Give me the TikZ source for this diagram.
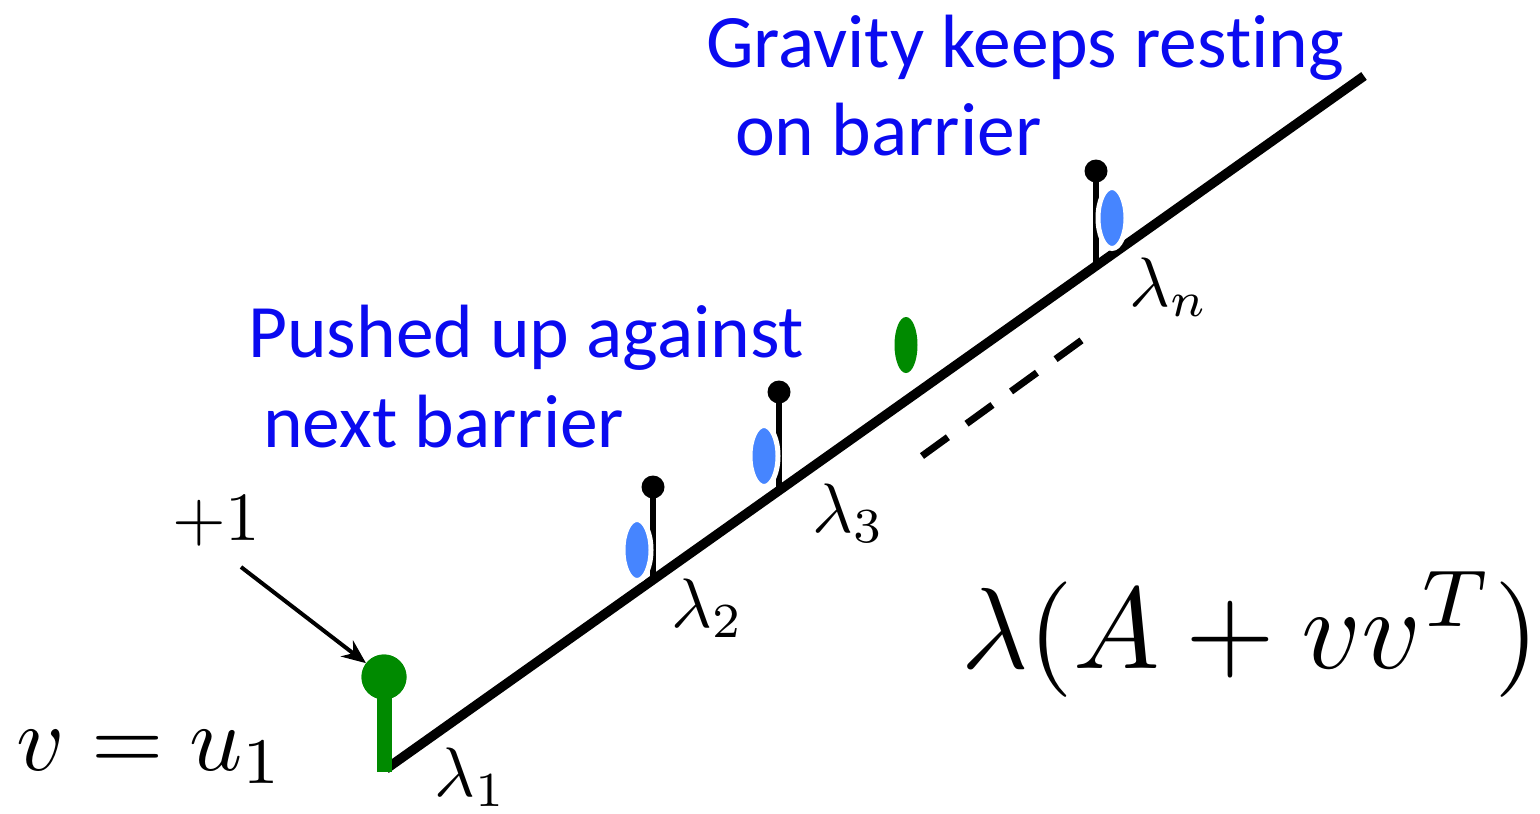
\documentclass[tikz,border=0pt]{standalone}
\usepackage{fontspec}
\newfontfamily\carl[Ligatures=NoCommon]{Carlito}
\usetikzlibrary{arrows.meta,shapes.geometric}
\definecolor{dgreen}{RGB}{0,138,0}
\definecolor{lblue}{RGB}{70,133,255}
\definecolor{tblue}{RGB}{10,10,240}
\begin{document}
\begin{tikzpicture}[x=1pt,y=-1pt,
  bluetext/.style={inner sep=0pt,anchor=base west,text=tblue,font=\carl\fontsize{75.5}{80}\selectfont},
  mathlbl/.style={inner sep=0pt,anchor=base west,font=\fontsize{10}{12}\selectfont,scale=7.0},
  stem/.style={line width=6pt},
  topdot/.style={circle,fill=black,inner sep=0pt,minimum size=23pt},
  ball/.style={ellipse,fill=lblue,draw=white,line width=5pt,inner sep=0pt,minimum width=28pt,minimum height=61pt},
]
\useasboundingbox (0,0) rectangle (1540,814);
% main line
\coordinate (l1) at (386,769);
\coordinate (lend) at (1364,76);
\draw[line width=9.5pt] (l1) -- (lend);
% dashed line
\coordinate (da) at (922,456);
\coordinate (db) at (1082,340);
\draw[line width=7pt,dash pattern=on 32pt off 23pt] (da) -- (db);
% green start
\coordinate (g0) at (384,772);
\node[circle,fill=dgreen,inner sep=0pt,minimum size=45pt] (gdot) at (384,677) {};
\draw[dgreen,line width=15pt] (g0) -- (gdot.center);
\node[circle,fill=dgreen,inner sep=0pt,minimum size=45pt] at (gdot) {};
% arrow
\coordinate (as) at (241,567);
\draw[line width=4pt,-{Stealth[length=24pt,width=20pt]}] (as) -- (gdot);
% barriers
\coordinate (b2) at (653,580);
\node[topdot] (d2) at (653,487) {};
\draw[stem] (b2) -- (d2.center);
\coordinate (b3) at (779,492);
\node[topdot] (d3) at (779,392) {};
\draw[stem] (b3) -- (d3.center);
\coordinate (bn) at (1096,265);
\node[topdot] (dn) at (1096,171) {};
\draw[stem] (bn) -- (dn.center);
% balls
\node[ball] (e2) at (637,550) {};
\node[ball] (e3) at (764,456) {};
\node[ball] (en) at (1112,218) {};
\node[ellipse,fill=dgreen,inner sep=0pt,minimum width=23pt,minimum height=56pt] (eg) at (906,345) {};
% labels
\node[mathlbl,scale=6.9/7] (p1) at (171,540) {$+1$};
\node[mathlbl,scale=9.3/7] (vu) at (15,770) {$v=u_1$};
\node[mathlbl] (lam1) at (433,796) {$\lambda_1$};
\node[mathlbl] (lam2) at (670,627) {$\lambda_2$};
\node[mathlbl] (lam3) at (811,532) {$\lambda_3$};
\node[mathlbl] (lamn) at (1128,306) {$\lambda_n$};
\node[mathlbl,scale=11.55/7] (big) at (959,668) {$\lambda(A+vv^T)$};
\node[bluetext] (t1) at (248,357) {Pushed up against};
\node[bluetext] (t2) at (263,447) {next barrier};
\node[bluetext] (t3) at (706,67) {Gravity keeps resting};
\node[bluetext] (t4) at (735,155) {on barrier};
\end{tikzpicture}
\end{document}
